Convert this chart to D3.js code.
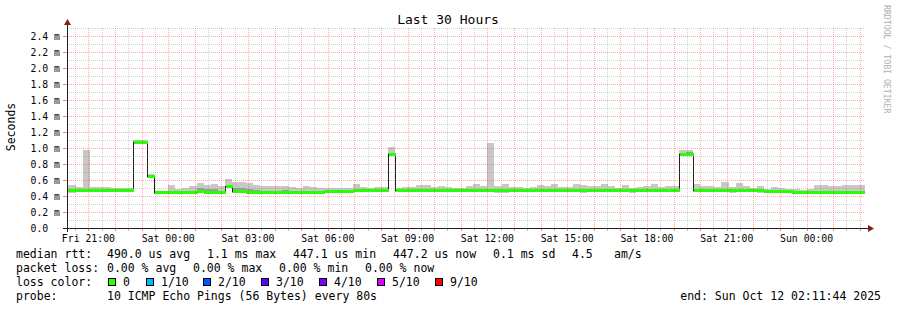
<!DOCTYPE html>
<html>
<head>
    <title>Last 30 Hours</title>
    <script src="https://cdnjs.cloudflare.com/ajax/libs/d3/7.8.5/d3.min.js"></script>
    <style>
        body {
            margin: 0;
            background-color: #ffffff;
        }

        svg text {
            font-family: "DejaVu Sans Mono", monospace;
            fill: #000;
        }
    </style>
</head>

<body>
    <div id="chart"></div>

    <script>
        // 30 hour window, 16 minute consolidated steps starting Fri 20:00
        const startTime = new Date(2025, 9, 10, 20, 11, 44);
        const endTime = new Date(2025, 9, 12, 2, 11, 44);
        const firstStep = new Date(2025, 9, 10, 20, 0, 0);
        const stepMinutes = 16;

        // median rtt per step (ms)
        const median = [
            0.48, 0.48, 0.48, 0.48, 0.48, 0.48, 0.48, 0.47, 0.47, 0.47,
            1.08, 1.07, 0.65, 0.45, 0.45, 0.45, 0.45, 0.45, 0.45, 0.46,
            0.45, 0.45, 0.45, 0.52, 0.46, 0.46, 0.45, 0.45, 0.45, 0.45,
            0.45, 0.45, 0.45, 0.45, 0.45, 0.45, 0.45, 0.46, 0.46, 0.46,
            0.46, 0.47, 0.47, 0.47, 0.47, 0.47, 0.93, 0.47, 0.47, 0.47,
            0.47, 0.47, 0.47, 0.47, 0.47, 0.47, 0.47, 0.47, 0.47, 0.47,
            0.47, 0.47, 0.47, 0.47, 0.47, 0.47, 0.47, 0.47, 0.47, 0.47,
            0.47, 0.47, 0.47, 0.47, 0.47, 0.47, 0.47, 0.47, 0.47, 0.47,
            0.47, 0.47, 0.47, 0.47, 0.47, 0.47, 0.47, 0.92, 0.93, 0.47,
            0.47, 0.47, 0.47, 0.47, 0.47, 0.47, 0.47, 0.47, 0.47, 0.46,
            0.46, 0.46, 0.46, 0.45, 0.45, 0.45, 0.45, 0.45, 0.45, 0.45,
            0.45, 0.45, 0.45, 0.45
        ];

        // smoke: slowest ping per step (ms)
        const smokeHi = [
            0.54, 0.54, 0.51, 0.97, 0.51, 0.51, 0.51, 0.50, 0.50, 0.50,
            1.10, 1.10, 0.67, 0.46, 0.46, 0.54, 0.49, 0.50, 0.52, 0.56,
            0.54, 0.55, 0.52, 0.61, 0.575, 0.575, 0.56, 0.54, 0.53, 0.52,
            0.52, 0.53, 0.51, 0.50, 0.52, 0.51, 0.50, 0.50, 0.50, 0.50,
            0.50, 0.55, 0.51, 0.50, 0.51, 0.51, 1.01, 0.50, 0.51, 0.51,
            0.54, 0.54, 0.51, 0.52, 0.51, 0.50, 0.50, 0.52, 0.55, 0.52,
            1.06, 0.53, 0.55, 0.51, 0.51, 0.50, 0.51, 0.54, 0.53, 0.55,
            0.51, 0.51, 0.55, 0.54, 0.52, 0.52, 0.55, 0.52, 0.50, 0.54,
            0.50, 0.51, 0.52, 0.55, 0.51, 0.52, 0.52, 0.975, 0.98, 0.55,
            0.52, 0.52, 0.51, 0.575, 0.51, 0.56, 0.52, 0.50, 0.53, 0.49,
            0.51, 0.50, 0.49, 0.49, 0.48, 0.49, 0.54, 0.54, 0.52, 0.52,
            0.54, 0.54, 0.54, 0.54
        ];

        // smoke: fastest ping per step (ms)
        const smokeLo = [
            0.44, 0.44, 0.46, 0.46, 0.46, 0.46, 0.46, 0.45, 0.45, 0.45,
            1.06, 1.05, 0.63, 0.44, 0.44, 0.44, 0.44, 0.44, 0.44, 0.44,
            0.44, 0.44, 0.44, 0.50, 0.44, 0.44, 0.44, 0.44, 0.44, 0.44,
            0.44, 0.44, 0.44, 0.43, 0.44, 0.44, 0.44, 0.44, 0.44, 0.44,
            0.44, 0.45, 0.45, 0.45, 0.45, 0.45, 0.92, 0.45, 0.45, 0.45,
            0.45, 0.45, 0.45, 0.45, 0.45, 0.45, 0.45, 0.45, 0.45, 0.45,
            0.45, 0.44, 0.44, 0.45, 0.45, 0.45, 0.45, 0.45, 0.45, 0.45,
            0.45, 0.45, 0.45, 0.44, 0.45, 0.45, 0.45, 0.45, 0.45, 0.45,
            0.44, 0.45, 0.45, 0.45, 0.45, 0.45, 0.45, 0.91, 0.92, 0.45,
            0.45, 0.45, 0.45, 0.45, 0.44, 0.45, 0.45, 0.45, 0.44, 0.44,
            0.44, 0.44, 0.44, 0.43, 0.43, 0.43, 0.43, 0.43, 0.43, 0.43,
            0.43, 0.43, 0.43, 0.43
        ];

        // darker inner smoke (upper inner pings, ms)
        const innerHi = [
            0.49, 0.49, 0.49, 0.49, 0.49, 0.49, 0.49, 0.48, 0.48, 0.48,
            1.09, 1.08, 0.66, 0.46, 0.46, 0.46, 0.46, 0.46, 0.46, 0.50,
            0.49, 0.49, 0.46, 0.53, 0.50, 0.50, 0.49, 0.47, 0.46, 0.46,
            0.46, 0.47, 0.46, 0.46, 0.46, 0.46, 0.46, 0.47, 0.47, 0.47,
            0.47, 0.48, 0.48, 0.48, 0.48, 0.48, 0.94, 0.48, 0.48, 0.48,
            0.48, 0.48, 0.49, 0.49, 0.48, 0.48, 0.48, 0.48, 0.48, 0.48,
            0.48, 0.48, 0.48, 0.48, 0.48, 0.48, 0.48, 0.48, 0.48, 0.48,
            0.48, 0.49, 0.48, 0.48, 0.48, 0.48, 0.48, 0.48, 0.48, 0.48,
            0.48, 0.48, 0.48, 0.48, 0.48, 0.48, 0.48, 0.94, 0.95, 0.48,
            0.48, 0.48, 0.48, 0.49, 0.48, 0.49, 0.48, 0.48, 0.48, 0.47,
            0.47, 0.47, 0.47, 0.46, 0.46, 0.46, 0.46, 0.46, 0.46, 0.46,
            0.46, 0.46, 0.46, 0.46
        ];

        const yTicks = [0, 0.2, 0.4, 0.6, 0.8, 1.0, 1.2, 1.4, 1.6, 1.8, 2.0, 2.2, 2.4];

        const lossLabels = ["0", "1/10", "2/10", "3/10", "4/10", "5/10", "9/10"];
        const lossColors = ["#26ff00", "#00b8ff", "#0059ff", "#5e00ff", "#7e00ff", "#dd00ff", "#ff0000"];
        const lossX = [108, 146, 203, 261, 319, 377, 435];

        const rttLegend = [
            ["median rtt:", 16], ["490.0 us avg", 107], ["1.1 ms max", 207], ["447.1 us min", 293],
            ["447.2 us now", 393], ["0.1 ms sd", 493], ["4.5", 572], ["am/s", 614]
        ];
        const lossLegend = [
            ["packet loss:", 16], ["0.00 % avg", 107], ["0.00 % max", 193], ["0.00 % min", 279], ["0.00 % now", 365]
        ];

        const width = 897, height = 310;
        const pLeft = 67, pRight = 865, pTop = 28, pBottom = 228;

        const svg = d3.select("#chart").append("svg")
            .attr("width", width)
            .attr("height", height);

        const x = d3.scaleTime().domain([startTime, endTime]).range([pLeft, pRight]);
        const y = d3.scaleLinear().domain([0, 2.5]).range([pBottom, pTop]);

        const steps = median.map((m, i) => {
            const t0 = d3.timeMinute.offset(firstStep, i * stepMinutes);
            return {
                t0: t0,
                t1: d3.timeMinute.offset(t0, stepMinutes),
                median: m,
                lo: smokeLo[i],
                hi: smokeHi[i],
                inner: innerHi[i]
            };
        });

        svg.append("rect")
            .attr("width", width).attr("height", height)
            .attr("fill", "#ffffff");

        svg.append("clipPath").attr("id", "plot")
            .append("rect")
            .attr("x", pLeft).attr("y", pTop - 2)
            .attr("width", pRight - pLeft).attr("height", pBottom - pTop + 2);

        const plot = svg.append("g").attr("clip-path", "url(#plot)")
            .attr("shape-rendering", "crispEdges");

        // smoke
        plot.selectAll(".smoke")
            .data(steps)
            .enter().append("rect")
            .attr("x", d => Math.round(x(d.t0)))
            .attr("width", d => Math.round(x(d.t1)) - Math.round(x(d.t0)))
            .attr("y", d => Math.round(y(d.hi)))
            .attr("height", d => Math.max(1, Math.round(y(d.lo)) - Math.round(y(d.hi))))
            .attr("fill", "#c8c8c8");

        plot.selectAll(".inner")
            .data(steps)
            .enter().append("rect")
            .attr("x", d => Math.round(x(d.t0)))
            .attr("width", d => Math.round(x(d.t1)) - Math.round(x(d.t0)))
            .attr("y", d => Math.round(y(d.inner)))
            .attr("height", d => Math.max(0, Math.round(y(d.median - 0.02)) - Math.round(y(d.inner))))
            .attr("fill", "#9c9c9c");

        // median step line
        const linePts = steps.map(d => [d.t0, d.median]);
        linePts.push([steps[steps.length - 1].t1, steps[steps.length - 1].median]);

        plot.append("path")
            .datum(linePts)
            .attr("fill", "none")
            .attr("stroke", "#202020")
            .attr("stroke-width", 1)
            .attr("d", d3.line()
                .x(d => Math.round(x(d[0])) + 0.5)
                .y(d => Math.round(y(d[1])) + 0.5)
                .curve(d3.curveStepAfter));

        // loss colour band on the median
        plot.selectAll(".band")
            .data(steps)
            .enter().append("rect")
            .attr("x", d => Math.round(x(d.t0)) + 1)
            .attr("width", d => Math.round(x(d.t1)) - Math.round(x(d.t0)))
            .attr("y", d => Math.round(y(d.median)) - 1)
            .attr("height", 3)
            .attr("fill", lossColors[0]);

        // grid (drawn over the graph like rrdtool)
        const grid = svg.append("g").attr("shape-rendering", "crispEdges");
        const minorY = d3.range(0, 2.51, 0.1).filter(v => Math.round(v * 10) % 2 === 1);
        const minorCol = "rgba(140,140,140,0.4)";
        const majorCol = "rgba(255,40,40,0.4)";

        grid.selectAll(".hminor")
            .data(minorY)
            .enter().append("line")
            .attr("x1", pLeft).attr("x2", pRight)
            .attr("y1", d => Math.round(y(d)) + 0.5).attr("y2", d => Math.round(y(d)) + 0.5)
            .attr("stroke", minorCol)
            .attr("stroke-dasharray", "1,1");

        const minorX = d3.timeMinute.every(30).range(startTime, endTime)
            .filter(d => d.getMinutes() === 30);
        const majorX = d3.timeHour.range(startTime, endTime);

        grid.selectAll(".vminor")
            .data(minorX)
            .enter().append("line")
            .attr("x1", d => Math.round(x(d)) + 0.5).attr("x2", d => Math.round(x(d)) + 0.5)
            .attr("y1", pTop).attr("y2", pBottom)
            .attr("stroke", minorCol)
            .attr("stroke-dasharray", "1,1");

        grid.selectAll(".hmajor")
            .data(yTicks.slice(1))
            .enter().append("line")
            .attr("x1", pLeft).attr("x2", pRight)
            .attr("y1", d => Math.round(y(d)) + 0.5).attr("y2", d => Math.round(y(d)) + 0.5)
            .attr("stroke", majorCol)
            .attr("stroke-dasharray", "1,1");

        grid.selectAll(".vmajor")
            .data(majorX)
            .enter().append("line")
            .attr("x1", d => Math.round(x(d)) + 0.5).attr("x2", d => Math.round(x(d)) + 0.5)
            .attr("y1", pTop).attr("y2", pBottom)
            .attr("stroke", majorCol)
            .attr("stroke-dasharray", "1,1");

        // axis ticks
        grid.selectAll(".xtick")
            .data(majorX)
            .enter().append("line")
            .attr("x1", d => Math.round(x(d)) + 0.5).attr("x2", d => Math.round(x(d)) + 0.5)
            .attr("y1", pBottom + 1).attr("y2", pBottom + 3)
            .attr("stroke", "rgba(255,40,40,0.6)");

        grid.selectAll(".xtickm")
            .data(minorX)
            .enter().append("line")
            .attr("x1", d => Math.round(x(d)) + 0.5).attr("x2", d => Math.round(x(d)) + 0.5)
            .attr("y1", pBottom + 1).attr("y2", pBottom + 3)
            .attr("stroke", "rgba(140,140,140,0.6)");

        grid.selectAll(".ytick")
            .data(yTicks)
            .enter().append("line")
            .attr("x1", pLeft - 4).attr("x2", pLeft)
            .attr("y1", d => Math.round(y(d)) + 0.5).attr("y2", d => Math.round(y(d)) + 0.5)
            .attr("stroke", "rgba(255,40,40,0.6)");

        // axes and arrows
        grid.append("line")
            .attr("x1", pLeft - 4).attr("x2", pRight + 4)
            .attr("y1", pBottom + 0.5).attr("y2", pBottom + 0.5)
            .attr("stroke", "#202020");
        grid.append("line")
            .attr("x1", pLeft + 0.5).attr("x2", pLeft + 0.5)
            .attr("y1", pBottom + 4).attr("y2", pTop - 4)
            .attr("stroke", "#202020");
        svg.append("path")
            .attr("d", `M${pRight + 3},${pBottom - 3} L${pRight + 9},${pBottom + 0.5} L${pRight + 3},${pBottom + 4} Z`)
            .attr("fill", "#8b1a1a");
        svg.append("path")
            .attr("d", `M${pLeft - 3},${pTop - 3} L${pLeft + 0.5},${pTop - 9} L${pLeft + 4},${pTop - 3} Z`)
            .attr("fill", "#8b1a1a");

        // axis labels
        const fmt = d3.timeFormat("%a %H:%M");
        svg.selectAll(".xlab")
            .data(majorX.filter(d => d.getHours() % 3 === 0))
            .enter().append("text")
            .attr("x", d => x(d))
            .attr("y", 241.5)
            .attr("text-anchor", "middle")
            .attr("font-size", "9.8px")
            .text(d => fmt(d));

        svg.selectAll(".ylab")
            .data(yTicks)
            .enter().append("text")
            .attr("x", 30.5)
            .attr("y", d => y(d) + 3.5)
            .attr("font-size", "9.8px")
            .text(d => d === 0 ? "0.0" : d.toFixed(1) + " m");

        svg.append("text")
            .attr("x", 448).attr("y", 24)
            .attr("text-anchor", "middle")
            .attr("font-size", "13px")
            .text("Last 30 Hours");

        svg.append("text")
            .attr("transform", "translate(15,127) rotate(-90)")
            .attr("text-anchor", "middle")
            .attr("font-size", "11.5px")
            .text("Seconds");

        svg.append("text")
            .attr("transform", "translate(884,5) rotate(90)")
            .attr("font-size", "8.2px")
            .style("fill", "#b0b0b0")
            .text("RRDTOOL / TOBI OETIKER");

        // legend
        const legend = svg.append("g").attr("font-size", "11.5px");

        legend.selectAll(".rtt")
            .data(rttLegend)
            .enter().append("text")
            .attr("x", d => d[1]).attr("y", 258)
            .text(d => d[0]);

        legend.selectAll(".loss")
            .data(lossLegend)
            .enter().append("text")
            .attr("x", d => d[1]).attr("y", 272)
            .text(d => d[0]);

        legend.append("text").attr("x", 16).attr("y", 286).text("loss color:");

        const swatch = legend.selectAll(".swatch")
            .data(lossLabels)
            .enter().append("g")
            .attr("transform", (d, i) => `translate(${lossX[i]},0)`);
        swatch.append("rect")
            .attr("x", 0.5).attr("y", 278.5)
            .attr("width", 7).attr("height", 7)
            .attr("fill", (d, i) => lossColors[i])
            .attr("stroke", "#000");
        swatch.append("text")
            .attr("x", 15).attr("y", 286)
            .text(d => d);

        legend.append("text").attr("x", 16).attr("y", 300).text("probe:");
        legend.append("text").attr("x", 107).attr("y", 300).text("10 ICMP Echo Pings (56 Bytes) every 80s");
        legend.append("text").attr("x", 881).attr("y", 300)
            .attr("text-anchor", "end")
            .text("end: Sun Oct 12 02:11:44 2025");
    </script>
</body>
</html>
